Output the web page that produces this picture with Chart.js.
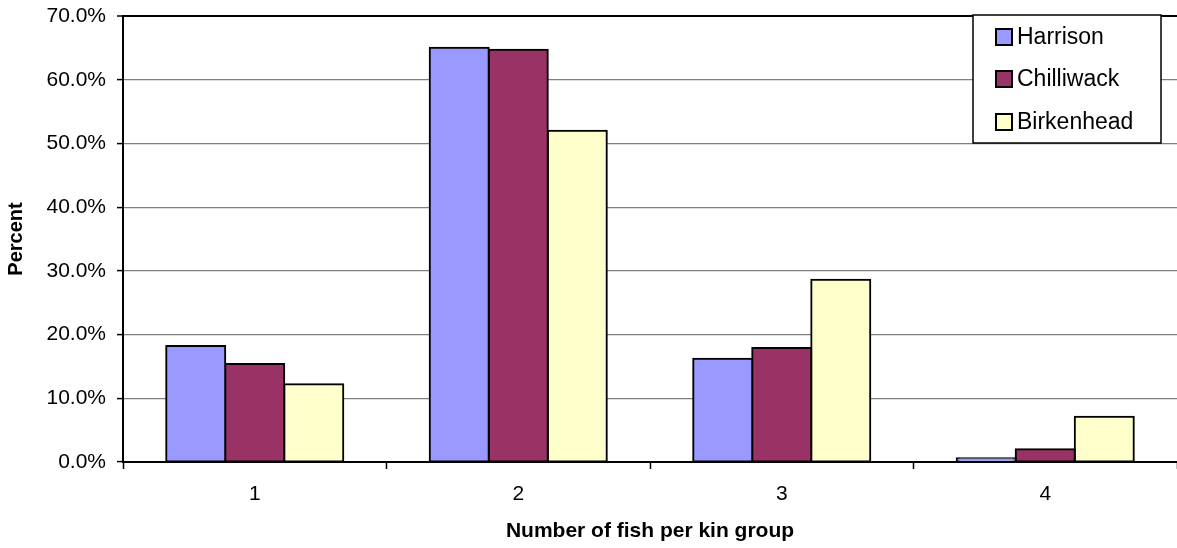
<!DOCTYPE html>
<html>
<head>
<meta charset="utf-8">
<title>Number of fish per kin group</title>
<script src="https://cdn.jsdelivr.net/npm/chart.js@4/dist/chart.umd.min.js"></script>
<style>
  html, body { margin: 0; padding: 0; background: #ffffff; }
  #wrap { width: 1177px; height: 548px; }
</style>
</head>
<body>
<div id="wrap"><canvas id="chart" width="1177" height="548"></canvas></div>
<script>
// Kin group sizes and the share of fish (%) in each group, per river population
const categories = ['1', '2', '3', '4'];
const harrison   = [18.2, 65.0, 16.2, 0.6];
const chilliwack = [15.4, 64.7, 17.9, 2.0];
const birkenhead = [12.2, 52.0, 28.6, 7.1];
const seriesNames = ['Harrison', 'Chilliwack', 'Birkenhead'];
const yTicks = [0, 10, 20, 30, 40, 50, 60, 70];

const FONT = 'Arial, "Liberation Sans", sans-serif';
const colors = ['#9999FF', '#993366', '#FFFFCC'];

// Boxed legend drawn inside the plot area, top right
const boxLegend = {
  id: 'boxLegend',
  afterDraw(chart) {
    const ctx = chart.ctx;
    const x0 = 973, y0 = 15, w = 188, h = 128;
    ctx.save();
    ctx.fillStyle = '#ffffff';
    ctx.fillRect(x0, y0, w, h);
    ctx.strokeStyle = '#000000';
    ctx.lineWidth = 1.5;
    ctx.strokeRect(x0, y0, w, h);
    ctx.font = '23px ' + FONT;
    ctx.textBaseline = 'middle';
    ctx.textAlign = 'left';
    const rows = [37, 79, 122];
    chart.data.datasets.forEach((ds, i) => {
      const cy = rows[i];
      ctx.fillStyle = ds.backgroundColor;
      ctx.fillRect(996, cy - 8, 16, 16);
      ctx.lineWidth = 2;
      ctx.strokeStyle = '#000000';
      ctx.strokeRect(996, cy - 8, 16, 16);
      ctx.fillStyle = '#000000';
      ctx.fillText(ds.label, 1017, cy + 1);
    });
    ctx.restore();
  }
};

const data = {
  labels: categories,
  datasets: [harrison, chilliwack, birkenhead].map((vals, i) => ({
    label: seriesNames[i],
    data: vals,
    backgroundColor: colors[i],
    borderColor: '#000000',
    borderWidth: 2,
    borderSkipped: false,
    inflateAmount: 1,
    categoryPercentage: 0.672,
    barPercentage: 1.0
  }))
};

new Chart(document.getElementById('chart'), {
  type: 'bar',
  data,
  plugins: [boxLegend],
  options: {
    responsive: false,
    animation: false,
    devicePixelRatio: 1,
    layout: { padding: { left: 0, right: 0, top: 16, bottom: 0 } },
    plugins: {
      legend: { display: false },
      tooltip: { enabled: false }
    },
    scales: {
      x: {
        offset: true,
        afterFit(scale) {
          scale.height = 86;
          scale.paddingLeft = 0;
          scale.paddingRight = 0;
        },
        grid: {
          offset: true,
          drawOnChartArea: false,
          drawTicks: true,
          tickLength: 7,
          tickColor: '#000000',
          tickWidth: 1.5
        },
        border: { color: '#000000', width: 2 },
        ticks: {
          color: '#000000',
          font: { family: FONT, size: 21 },
          padding: 13,
          maxRotation: 0
        },
        title: {
          display: true,
          text: 'Number of fish per kin group',
          color: '#000000',
          font: { family: FONT, size: 21, weight: 'bold' },
          padding: { top: 4, bottom: 4 }
        }
      },
      y: {
        min: 0,
        max: 70,
        afterFit(scale) {
          scale.width = 123;
          scale.paddingTop = 0;
          scale.paddingBottom = 0;
        },
        afterBuildTicks(scale) { scale.ticks = yTicks.map(v => ({ value: v })); },
        grid: {
          color: ctx => (ctx.tick && ctx.tick.value === 70) ? '#000000' : '#808080',
          lineWidth: ctx => (ctx.tick && ctx.tick.value === 70) ? 2 : 1.2,
          tickLength: 6,
          tickColor: '#000000',
          tickWidth: 1.5
        },
        border: { color: '#000000', width: 2 },
        ticks: {
          color: '#000000',
          font: { family: FONT, size: 21 },
          padding: 11,
          callback: v => Number(v).toFixed(1) + '%'
        },
        title: {
          display: true,
          text: 'Percent',
          color: '#000000',
          font: { family: FONT, size: 20, weight: 'bold' },
          padding: { top: 4, bottom: 4 }
        }
      }
    }
  }
});
</script>
</body>
</html>
